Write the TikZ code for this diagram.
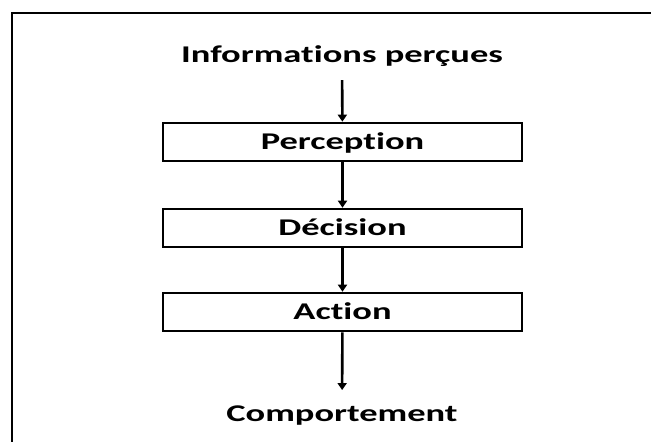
\documentclass[tikz,border=0pt]{standalone}
\usepackage{fontspec}
\setmainfont{Carlito}[Ligatures=NoCommon]
\usetikzlibrary{arrows.meta}
\newcommand\widetext[1]{\scalebox{1.52}[1]{#1}}
\begin{document}
\begin{tikzpicture}[x=1pt,y=-1pt,
  lbl/.style={font=\fontsize{24}{28}\selectfont\bfseries, inner sep=0pt},
  stage/.style={draw, line width=2.6pt, minimum width=359pt, minimum height=38pt,
    inner sep=0pt, text height=15pt, text depth=0pt, font=\fontsize{24}{28}\selectfont\bfseries},
  flow/.style={line width=2.6pt, -{Triangle[width=9pt,length=7pt]}}]
\useasboundingbox (0,0) rectangle (651,442);
\draw[line width=2.8pt] (12,442) |- (651,13);
\node[lbl, anchor=base] (info) at (342,62) {\widetext{Informations perçues}};
\node[stage] (perc) at (342.5,142) {\widetext{Perception}};
\node[stage] (dec) at (342.5,228) {\widetext{Décision}};
\node[stage] (act) at (342.5,312) {\widetext{Action}};
\node[lbl, anchor=base] (comp) at (342,421) {\widetext{Comportement}};
\draw[flow, shorten <=14pt] (info) -- (perc);
\draw[flow] (perc) -- (dec);
\draw[flow] (dec) -- (act);
\draw[flow, shorten >=15pt] (act) -- (comp);
\end{tikzpicture}
\end{document}
